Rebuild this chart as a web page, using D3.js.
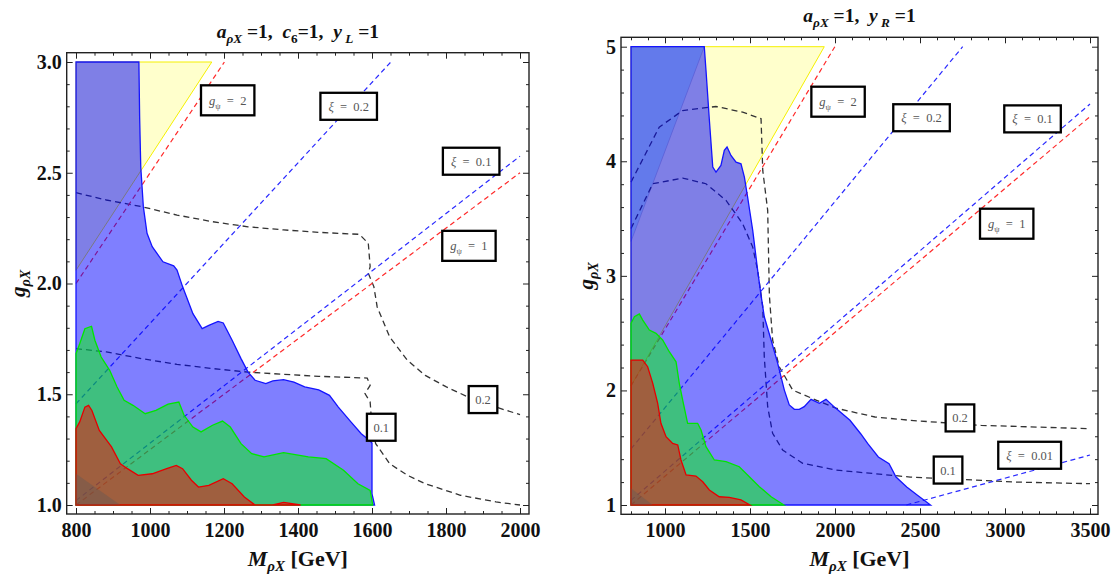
<!DOCTYPE html>
<html><head><meta charset="utf-8">
<script src="https://cdn.jsdelivr.net/npm/d3@7"></script>
<style>
body{margin:0;background:#fff}
svg{display:block}
text{font-family:"Liberation Serif","Times New Roman",serif}
</style>
</head><body>
<svg id="c" width="1112" height="577"></svg>
<script>
// ---------------- LEFT PANEL DATA ----------------
const leftTickX = [800, 1000, 1200, 1400, 1600, 1800, 2000];
const leftTickY = [1.0, 1.5, 2.0, 2.5, 3.0];
const leftYellow = [[800,2.06],[1167,3.0],[800,3.0]];
const leftBlue = [[800,1.0],[800,3.0],[970,3.0],[972,2.75],[975,2.527],[982,2.347],[992,2.227],[1006,2.166],[1035,2.098],[1064,2.080],[1073,2.061],[1088,1.986],[1116,1.864],[1141,1.796],[1159,1.811],[1184,1.829],[1198,1.822],[1222,1.744],[1246,1.661],[1265,1.600],[1284,1.563],[1313,1.548],[1332,1.560],[1361,1.566],[1389,1.555],[1418,1.533],[1456,1.520],[1485,1.495],[1509,1.442],[1543,1.375],[1571,1.322],[1595,1.289],[1600,1.28],[1600,1.05],[1607,1.0]];
const leftGreen = [[800,1.0],[800,1.683],[810,1.728],[824,1.796],[842,1.807],[851,1.744],[868,1.668],[891,1.608],[911,1.533],[930,1.473],[954,1.450],[987,1.412],[1016,1.427],[1049,1.455],[1078,1.465],[1092,1.405],[1116,1.352],[1138,1.330],[1169,1.360],[1196,1.379],[1217,1.352],[1246,1.277],[1275,1.232],[1308,1.217],[1361,1.236],[1428,1.217],[1476,1.209],[1523,1.157],[1562,1.096],[1595,1.066],[1602,1.0]];
const leftRed = [[800,1.0],[800,1.345],[810,1.375],[824,1.442],[834,1.450],[843,1.427],[863,1.337],[896,1.262],[920,1.186],[939,1.164],[968,1.134],[1006,1.141],[1045,1.164],[1071,1.179],[1088,1.164],[1112,1.112],[1131,1.081],[1159,1.089],[1198,1.119],[1222,1.096],[1255,1.036],[1284,1.0],[1332,1.0],[1361,1.012],[1407,1.0]];
const leftGray = [[800,1.0],[800,1.141],[920,1.0]];
const leftGpsi2 = [[800,2.0],[1201,3.0]];
const leftXi02 = [[800,1.457],[1651,3.0]];
const leftXi01 = [[800,1.02],[2000,2.575]];
const leftGpsi1 = [[800,1.0],[2000,2.5]];
const leftContour02 = [[800,2.41],[882,2.377],[977,2.347],[1073,2.309],[1169,2.279],[1265,2.256],[1361,2.242],[1456,2.231],[1566,2.222],[1590,2.181],[1595,2.076],[1590,2.046],[1605,1.986],[1614,1.894],[1648,1.758],[1696,1.653],[1744,1.585],[1801,1.533],[1859,1.488],[1935,1.442],[2000,1.408]];
const leftContour01 = [[800,1.706],[882,1.691],[977,1.661],[1073,1.635],[1169,1.616],[1265,1.600],[1361,1.590],[1456,1.581],[1587,1.573],[1595,1.540],[1581,1.503],[1595,1.465],[1600,1.352],[1610,1.277],[1648,1.186],[1696,1.134],[1744,1.096],[1839,1.044],[1935,1.014],[2000,1.0]];
const leftLabels = [["g","2",1210,2.827],["xi","0.2",1537,2.80],["xi","0.1",1868,2.552],["g","1",1862,2.17],["n","0.1",1625,1.351],["n","0.2",1900,1.476]];

// ---------------- RIGHT PANEL DATA ----------------
const rightTickX = [1000, 1500, 2000, 2500, 3000, 3500];
const rightTickY = [1, 2, 3, 4, 5];
const rightYellow = [[800,2.04],[1937,5.0],[800,5.0]];
const rightCyan = [[800,3.3],[1231,5.0],[800,5.0]];
const rightBlue = [[800,1.0],[800,5.0],[1231,5.0],[1241,4.796],[1261,4.36],[1281,3.949],[1300,3.906],[1329,3.964],[1349,4.095],[1365,4.124],[1388,4.051],[1418,3.993],[1447,3.978],[1467,3.862],[1486,3.688],[1516,3.397],[1545,3.048],[1565,2.83],[1584,2.643],[1624,2.44],[1663,2.236],[1702,2.003],[1731,1.873],[1761,1.835],[1790,1.835],[1819,1.858],[1859,1.922],[1908,1.887],[1947,1.922],[2000,1.85],[2088,1.739],[2151,1.622],[2193,1.535],[2255,1.419],[2318,1.36],[2359,1.244],[2422,1.157],[2485,1.085],[2562,1.0]];
const rightGreen = [[800,1.0],[800,2.585],[820,2.643],[849,2.667],[869,2.614],[908,2.527],[947,2.498],[986,2.44],[1025,2.338],[1065,2.25],[1084,2.062],[1104,1.916],[1133,1.713],[1192,1.713],[1212,1.654],[1241,1.509],[1290,1.393],[1359,1.378],[1437,1.334],[1496,1.247],[1555,1.16],[1624,1.072],[1700,1.0]];
const rightRed = [[800,1.0],[800,2.265],[869,2.265],[898,2.207],[928,2.062],[957,1.887],[976,1.713],[1006,1.596],[1045,1.538],[1075,1.524],[1094,1.393],[1124,1.262],[1182,1.253],[1222,1.203],[1261,1.131],[1319,1.072],[1378,1.067],[1447,1.044],[1500,1.0]];
const rightGray = [[800,1.0],[800,1.146],[928,1.0]];
const rightGpsi2 = [[800,2.04],[1999,5.0]];
const rightXi02 = [[800,1.49],[2751,5.0]];
const rightXi01 = [[800,1.04],[3500,4.5]];
const rightGpsi1 = [[800,1.0],[3500,4.39]];
const rightXi001 = [[2420,1.0],[3500,1.436]];
const rightContour02 = [[800,3.818],[966,4.298],[1104,4.443],[1300,4.478],[1457,4.429],[1565,4.371],[1575,3.92],[1604,3.572],[1614,2.83],[1633,2.44],[1672,2.207],[1751,2.003],[1888,1.916],[2006,1.845],[2235,1.768],[2443,1.739],[2860,1.695],[3500,1.666]];
const rightContour01 = [[800,3.413],[928,3.804],[1104,3.853],[1241,3.804],[1359,3.659],[1457,3.455],[1516,3.251],[1545,3.048],[1575,2.73],[1584,2.294],[1604,1.858],[1633,1.626],[1692,1.48],[1810,1.364],[2006,1.305],[2443,1.244],[3068,1.2],[3500,1.186]];
const rightLabels = [["g","2",2018,4.52],["xi","0.2",2509,4.38],["xi","0.1",3162,4.37],["g","1",3010,3.455],["n","0.2",2735,1.76],["n","0.1",2665,1.305],["xi","0.01",3145,1.434]];

// ---------------- DRAWING ----------------
const svg = d3.select("#c");
svg.append("rect").attr("width",1112).attr("height",577).attr("fill","#fff");

function rich(t, parts, shift) {
  let cur = 0;
  parts.forEach(p => {
    const s = p.sub ? shift : 0;
    const ts = t.append("tspan").attr("dy", s - cur).text(p.t);
    ts.attr("font-style", p.i ? "italic" : "normal");
    if (p.sub) ts.attr("font-size", "0.68em");
    cur = s;
  });
}

function panel(cfg, id) {
  const x = d3.scaleLinear().domain(cfg.xd).range(cfg.xr);
  const y = d3.scaleLinear().domain(cfg.yd).range(cfg.yr);
  const [fl, fr, ft, fb] = cfg.frame;
  const g = svg.append("g");
  g.append("clipPath").attr("id", "clip" + id).append("rect")
    .attr("x", fl).attr("y", ft).attr("width", fr - fl).attr("height", fb - ft);
  const area = g.append("g").attr("clip-path", `url(#clip${id})`);
  const line = d3.line().x(d => x(d[0])).y(d => y(d[1]));
  const poly = d => line(d) + "Z";

  area.append("path").attr("d", poly(cfg.yellow)).attr("fill", "rgba(255,255,0,0.2)")
    .attr("stroke", "#f5f000").attr("stroke-width", 1);
  if (cfg.cyan) area.append("path").attr("d", poly(cfg.cyan)).attr("fill", "rgba(0,210,255,0.22)")
    .attr("stroke", "rgba(150,150,150,0.6)").attr("stroke-width", 0.8);

  cfg.blackLines.forEach(l => area.append("path").attr("d", line(l)).attr("fill", "none")
    .attr("stroke", "#333").attr("stroke-width", 1.3).attr("stroke-dasharray", "6,4"));
  cfg.blueLines.forEach(l => area.append("path").attr("d", line(l)).attr("fill", "none")
    .attr("stroke", "#2a2aff").attr("stroke-width", 1.2).attr("stroke-dasharray", "5,3.5"));
  cfg.redLines.forEach(l => area.append("path").attr("d", line(l)).attr("fill", "none")
    .attr("stroke", "#ff2a2a").attr("stroke-width", 1.2).attr("stroke-dasharray", "5,3.5"));

  area.append("path").attr("d", poly(cfg.blue)).attr("fill", "rgba(0,0,255,0.5)")
    .attr("stroke", "#1414ff").attr("stroke-width", 1.3);
  area.append("path").attr("d", poly(cfg.green)).attr("fill", "rgba(0,255,0,0.5)")
    .attr("stroke", "#00e600").attr("stroke-width", 1.3);
  area.append("path").attr("d", poly(cfg.red)).attr("fill", "rgba(255,0,0,0.5)")
    .attr("stroke", "#e60000").attr("stroke-width", 1.3);
  area.append("path").attr("d", poly(cfg.gray)).attr("fill", "rgba(90,90,90,0.35)");

  // frame
  g.append("rect").attr("x", fl).attr("y", ft).attr("width", fr - fl).attr("height", fb - ft)
    .attr("fill", "none").attr("stroke", "#222").attr("stroke-width", 1.4);

  const styleAxis = a => {
    a.select(".domain").remove();
    a.selectAll("line").attr("stroke", "#222").attr("stroke-width", 1);
    a.selectAll("text").attr("font-family", "'Liberation Serif',serif").attr("font-size", 20)
      .attr("font-weight", "bold").attr("fill", "#111");
  };
  const minorX = d3.range(cfg.xd[0], cfg.xd[1] + 1e-9, cfg.xMinor).filter(v => !cfg.tx.some(t => Math.abs(t - v) < 1e-6));
  const minorY = d3.range(cfg.yd[0], cfg.yd[1] + 1e-9, cfg.yMinor).map(v => +v.toFixed(4)).filter(v => !cfg.ty.some(t => Math.abs(t - v) < 1e-6));

  g.append("g").attr("transform", `translate(0,${fb})`)
    .call(d3.axisBottom(x).tickValues(cfg.tx).tickSize(-6).tickPadding(9).tickFormat(d3.format("d"))).call(styleAxis);
  g.append("g").attr("transform", `translate(0,${fb})`)
    .call(d3.axisBottom(x).tickValues(minorX).tickSize(-3).tickFormat("")).call(styleAxis);
  g.append("g").attr("transform", `translate(0,${ft})`)
    .call(d3.axisTop(x).tickValues(cfg.tx).tickSize(-6).tickFormat("")).call(styleAxis);
  g.append("g").attr("transform", `translate(0,${ft})`)
    .call(d3.axisTop(x).tickValues(minorX).tickSize(-3).tickFormat("")).call(styleAxis);
  g.append("g").attr("transform", `translate(${fl},0)`)
    .call(d3.axisLeft(y).tickValues(cfg.ty).tickSize(-6).tickPadding(5).tickFormat(d3.format(cfg.yFmt))).call(styleAxis);
  g.append("g").attr("transform", `translate(${fl},0)`)
    .call(d3.axisLeft(y).tickValues(minorY).tickSize(-3).tickFormat("")).call(styleAxis);
  g.append("g").attr("transform", `translate(${fr},0)`)
    .call(d3.axisRight(y).tickValues(cfg.ty).tickSize(-6).tickFormat("")).call(styleAxis);
  g.append("g").attr("transform", `translate(${fr},0)`)
    .call(d3.axisRight(y).tickValues(minorY).tickSize(-3).tickFormat("")).call(styleAxis);

  // labels
  cfg.labels.forEach(([kind, val, lx, ly]) => {
    const cx = x(lx), cy = y(ly);
    const lg = g.append("g");
    const box = lg.append("rect");
    const t = lg.append("text").attr("x", cx).attr("y", cy + 4.5).attr("text-anchor", "middle")
      .attr("font-size", 12.5).attr("fill", "#555").style("white-space", "pre");
    if (kind === "g") rich(t, [{t: "g", i: true}, {t: "ψ", sub: true}, {t: "  =  " + val}], 4);
    else if (kind === "xi") rich(t, [{t: "ξ", i: true}, {t: "  =  " + val}], 4);
    else rich(t, [{t: val}], 4);
    const w = t.node().getComputedTextLength() + (kind === "n" ? 13 : 16);
    const h = kind === "g" ? 30 : 27;
    box.attr("x", cx - w / 2).attr("y", cy - h / 2).attr("width", w).attr("height", h)
      .attr("fill", "#fff").attr("stroke", "#000").attr("stroke-width", 2.3);
  });

  // title
  const tt = svg.append("text").attr("x", (fl + fr) / 2).attr("y", cfg.titleY).attr("text-anchor", "middle")
    .attr("font-size", 19.5).attr("font-weight", "bold").attr("fill", "#111").style("white-space", "pre");
  rich(tt, cfg.title, 5);
  // x label
  const xl = svg.append("text").attr("x", (fl + fr) / 2).attr("y", 566).attr("text-anchor", "middle")
    .attr("font-size", 22).attr("font-weight", "bold").attr("fill", "#111").style("white-space", "pre");
  rich(xl, [{t: "M", i: true}, {t: "ρ", sub: true, i: true}, {t: "X", sub: true, i: true}, {t: " [GeV]"}], 5);
  // y label
  const yl = svg.append("text").attr("transform", `translate(${cfg.yLabelX},${(ft + fb) / 2}) rotate(-90)`)
    .attr("text-anchor", "middle").attr("font-size", 21).attr("font-weight", "bold").attr("fill", "#111");
  rich(yl, [{t: "g", i: true}, {t: "ρ", sub: true, i: true}, {t: "X", sub: true, i: true}], 5);
}

panel({
  xd: [800, 2000], xr: [76, 520], yd: [1, 3], yr: [505, 62],
  frame: [66.7, 529, 52.7, 514], tx: leftTickX, ty: leftTickY, xMinor: 50, yMinor: 0.1, yFmt: ".1f",
  yellow: leftYellow, blue: leftBlue, green: leftGreen, red: leftRed, gray: leftGray,
  blackLines: [leftContour02, leftContour01], blueLines: [leftXi02, leftXi01], redLines: [leftGpsi2, leftGpsi1],
  labels: leftLabels, titleY: 38, yLabelX: 25,
  title: [{t: "a", i: true}, {t: "ρ", sub: true, i: true}, {t: "X", sub: true, i: true}, {t: " =1,  "}, {t: "c", i: true}, {t: "6", sub: true}, {t: "=1,  "}, {t: "y", i: true}, {t: " L", sub: true, i: true}, {t: " =1"}]
}, "L");

panel({
  xd: [800, 3500], xr: [631, 1090], yd: [1, 5], yr: [505, 46.7],
  frame: [621, 1098, 37.3, 514.3], tx: rightTickX, ty: rightTickY, xMinor: 100, yMinor: 0.2, yFmt: "d",
  yellow: rightYellow, cyan: rightCyan, blue: rightBlue, green: rightGreen, red: rightRed, gray: rightGray,
  blackLines: [rightContour02, rightContour01], blueLines: [rightXi02, rightXi01, rightXi001], redLines: [rightGpsi2, rightGpsi1],
  labels: rightLabels, titleY: 22, yLabelX: 593,
  title: [{t: "a", i: true}, {t: "ρ", sub: true, i: true}, {t: "X", sub: true, i: true}, {t: " =1,  "}, {t: "y", i: true}, {t: " R", sub: true, i: true}, {t: " =1"}]
}, "R");
</script>
</body></html>
